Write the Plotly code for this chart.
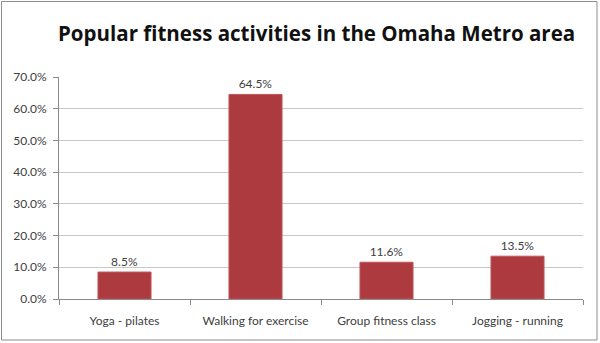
import plotly.graph_objects as go

categories = ["Yoga - pilates", "Walking for exercise", "Group fitness class", "Jogging - running"]
values = [8.5, 64.5, 11.6, 13.5]
y_ticks = [0, 10, 20, 30, 40, 50, 60, 70]
y_tick_labels = ["0.0%", "10.0%", "20.0%", "30.0%", "40.0%", "50.0%", "60.0%", "70.0%"]
title_text = "Popular fitness activities in the Omaha Metro area"

W, H = 600, 343
L, R, T, B = 59, 17, 77, 44
pw, ph = W - L - R, H - T - B

def px(x):
    return (x - L) / pw

def py(y):
    return (H - B - y) / ph

fig = go.Figure()
fig.add_trace(go.Bar(
    x=categories, y=values,
    marker=dict(color="#AD3A3F", line=dict(color="#C0555A", width=1)),
    width=0.405,
    text=[f"{v:.1f}%" for v in values],
    textposition="outside",
    textfont=dict(family="Lato", size=12, color="#404040"),
    cliponaxis=False,
))

fig.update_layout(
    width=W, height=H,
    margin=dict(l=L, r=R, t=T, b=B, pad=0),
    paper_bgcolor="white", plot_bgcolor="white",
    showlegend=False,
    bargap=0.595,
    xaxis=dict(
        type="category",
        showgrid=False,
        showline=True, linecolor="#8a8a8a", linewidth=1,
        ticks="outside", ticklen=5, tickcolor="#8a8a8a",
        tickson="boundaries",
        tickfont=dict(family="Lato", size=12, color="#404040"),
        ticklabelstandoff=11,
    ),
    yaxis=dict(
        range=[0, 70],
        tickvals=y_ticks, ticktext=y_tick_labels,
        showgrid=True, gridcolor="#c8c8c8", gridwidth=1,
        showline=True, linecolor="#8a8a8a", linewidth=1,
        ticks="outside", ticklen=5, tickcolor="#8a8a8a",
        tickfont=dict(family="Lato", size=12, color="#404040"),
        ticklabelstandoff=4,
        zeroline=False,
    ),
    font=dict(family="Lato"),
)

fig.add_annotation(
    text="<b>" + title_text + "</b>",
    xref="paper", yref="paper",
    x=px(316), y=py(33),
    xanchor="center", yanchor="middle",
    showarrow=False,
    font=dict(family="Open Sans", size=20.5, color="#111111"),
)

fig.add_shape(
    type="rect", xref="paper", yref="paper",
    x0=px(1.5), x1=px(597), y0=py(340), y1=py(1.5),
    line=dict(color="#8c8c8c", width=1), layer="below",
)

fig.write_html("out.html")
